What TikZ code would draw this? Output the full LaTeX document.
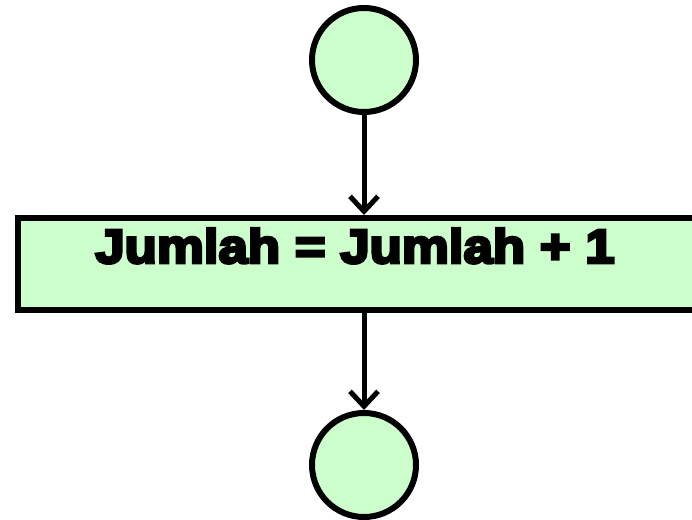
\documentclass[tikz,border=0pt]{standalone}
\usepackage{fontspec}
\setmainfont{Liberation Sans}
\newfontfamily\heavyfont[FakeBold=6,FakeStretch=1.1]{Liberation Sans Bold}
\usetikzlibrary{arrows.meta}
\definecolor{fillgreen}{HTML}{CCFFCC}
\tikzset{
  x=1pt, y=1pt,
  statecircle/.style={circle, draw=black, line width=6pt, fill=fillgreen, minimum size=104pt, inner sep=0pt},
  actionbox/.style={rectangle, draw=black, line width=6pt, fill=fillgreen, minimum width=682pt, minimum height=92pt, inner sep=0pt},
  flow/.style={line width=5pt, -{Straight Barb[length=15pt,width=28pt,line width=5pt]}},
}
\begin{document}
\begin{tikzpicture}
\useasboundingbox (0,0) rectangle (692,519);
\node[statecircle] (start) at (364,459) {};
\node[actionbox] (act) at (359,255) {};
\node[anchor=base] (label) at (355,256) {\heavyfont\fontsize{48}{48}\selectfont Jumlah = Jumlah + 1};
\node[statecircle] (end) at (364,54) {};
\draw[flow] (start.south) -- (start.south |- act.north);
\draw[flow] (start.south |- act.south) -- (end.north);
\end{tikzpicture}
\end{document}
